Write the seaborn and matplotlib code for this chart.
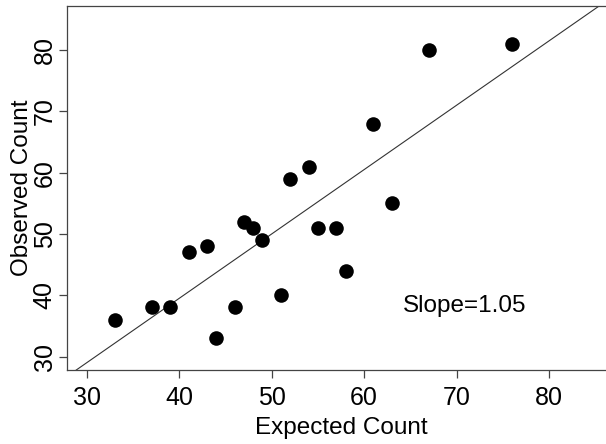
import matplotlib
matplotlib.use("Agg")
import matplotlib.pyplot as plt
import seaborn as sns
import numpy as np
import pandas as pd

expected = [33, 37, 39, 41, 43, 44, 46, 47, 48, 49, 51, 52, 54, 55, 57, 58, 61, 63, 67, 76]
observed = [36, 38, 38, 47, 48, 33, 38, 52, 51, 49, 40, 59, 61, 51, 51, 44, 68, 55, 80, 81]
slope = 1.05
intercept = -2.5
ticks = [30, 40, 50, 60, 70, 80]
label_text = "Slope=1.05"

df = pd.DataFrame({"Expected Count": expected, "Observed Count": observed})

sns.set_style("white")
plt.rcParams["font.family"] = ["Liberation Sans", "DejaVu Sans"]
plt.rcParams["text.color"] = "black"
plt.rcParams["axes.labelcolor"] = "black"

fig = plt.figure(figsize=(6.06, 4.44), dpi=100)
ax = fig.add_axes([66.5 / 606, 74 / 444, 549 / 606, 364 / 444])

sns.scatterplot(data=df, x="Expected Count", y="Observed Count", ax=ax,
                color="black", s=110, edgecolor="black", linewidth=0, zorder=3)

ax.set_xlim(27.8, 87.2)
ax.set_ylim(27.8, 87.2)
xs = np.array([27.8, 87.2])
ax.plot(xs, intercept + slope * xs, color="#333333", lw=0.8, zorder=2)

ax.text(70.9, 38.3, label_text, fontsize=17.5, ha="center", va="center", color="black")

ax.set_xticks(ticks)
ax.set_yticks(ticks)
ax.tick_params(axis="both", which="both", direction="out", length=5.5, width=0.9,
               color="#444444", labelcolor="black", labelsize=18, bottom=True, left=True)
ax.tick_params(axis="x", pad=6)
ax.tick_params(axis="y", pad=1.5)
for lab in ax.get_yticklabels():
    lab.set_rotation(90)
    lab.set_va("center")
ax.set_xlabel("Expected Count", fontsize=17.5, labelpad=5)
ax.set_ylabel("Observed Count", fontsize=17.5, labelpad=0)

for s in ax.spines.values():
    s.set_color("#444444")
    s.set_linewidth(0.9)
ax.spines["right"].set_visible(False)

fig.savefig("out.png", dpi=100)
